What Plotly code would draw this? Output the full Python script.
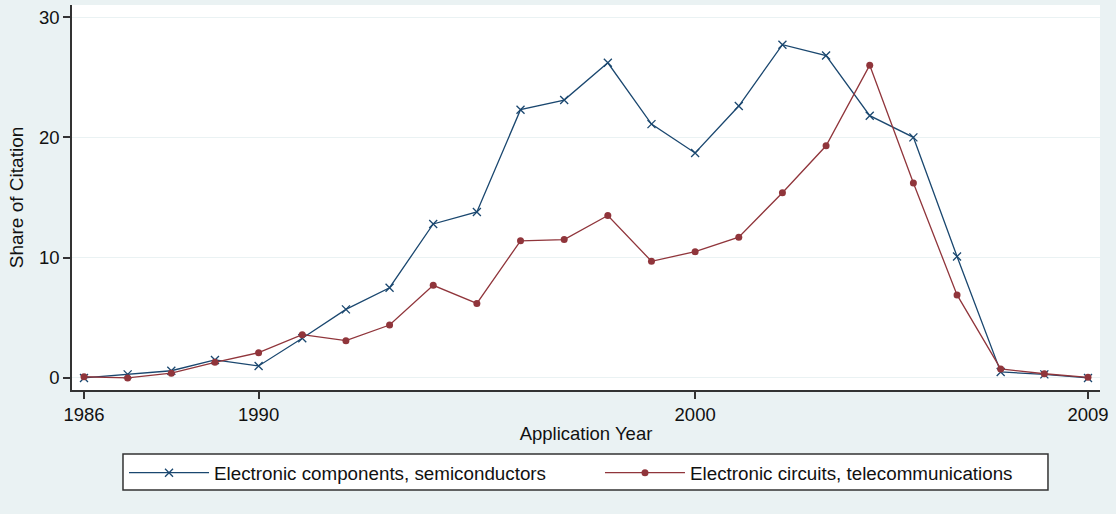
import plotly.graph_objects as go

years = list(range(1986, 2010))
semiconductors = [0.0, 0.3, 0.6, 1.5, 1.0, 3.3, 5.7, 7.5, 12.8, 13.8, 22.3, 23.1, 26.2, 21.1,
                  18.7, 22.6, 27.7, 26.8, 21.8, 20.0, 10.1, 0.5, 0.3, 0.0]
telecom = [0.1, 0.0, 0.4, 1.3, 2.1, 3.6, 3.1, 4.4, 7.7, 6.2, 11.4, 11.5, 13.5, 9.7,
           10.5, 11.7, 15.4, 19.3, 26.0, 16.2, 6.9, 0.75, 0.35, 0.05]
x_ticks = [1986, 1990, 2000, 2009]
y_ticks = [0, 10, 20, 30]
names = ["Electronic components, semiconductors", "Electronic circuits, telecommunications"]

BG = "#EAF2F3"
FONT = "Liberation Sans, Arial, sans-serif"
FS = 18.5
LFS = 18.8

fig = go.Figure()
fig.add_trace(go.Scatter(
    x=years, y=semiconductors, name=names[0], mode="lines+markers",
    line=dict(color="#1A476F", width=1.3),
    marker=dict(symbol="x-thin-open", size=8, color="#1A476F",
                line=dict(color="#1A476F", width=1.3)),
    legend="legend",
))
fig.add_trace(go.Scatter(
    x=years, y=telecom, name=names[1], mode="lines+markers",
    line=dict(color="#90353B", width=1.3),
    marker=dict(symbol="circle", size=7, color="#90353B"),
    legend="legend2",
))

legend_common = dict(
    orientation="h", yanchor="top", y=-0.1662, xanchor="left",
    bgcolor="rgba(0,0,0,0)", borderwidth=0,
    font=dict(family=FONT, size=LFS, color="#111111"),
    itemwidth=80,
)

fig.update_layout(
    width=1116, height=514,
    paper_bgcolor=BG, plot_bgcolor="white",
    margin=dict(l=72, r=16, t=5, b=124, autoexpand=False),
    font=dict(family=FONT, size=FS, color="#111111"),
    showlegend=True,
    legend=dict(x=0.0506, **legend_common),
    legend2=dict(x=0.5136, **legend_common),
    shapes=[dict(
        type="rect", xref="paper", yref="paper",
        x0=0.0496, x1=0.9494, y0=-0.2597, y1=-0.1662,
        fillcolor="white", line=dict(color="#333333", width=1.5), layer="below",
    )],
)
fig.update_xaxes(
    range=[1985.725, 2009.275], tickvals=x_ticks, ticktext=[str(t) for t in x_ticks],
    showgrid=False, zeroline=False, automargin=False,
    showline=True, linecolor="#333333", linewidth=1.5,
    ticks="outside", ticklen=7, tickcolor="#333333", tickwidth=1.5,
    title=dict(text="Application Year", standoff=3, font=dict(size=FS)),
)
fig.update_yaxes(
    range=[-1.0, 31.0], tickvals=y_ticks, automargin=False,
    showgrid=True, gridcolor=BG, gridwidth=1.2, zeroline=False,
    showline=True, linecolor="#333333", linewidth=1.5,
    ticks="outside", ticklen=7, tickcolor="#333333", tickwidth=1.5,
    title=dict(text="Share of Citation", standoff=10, font=dict(size=19)),
)

fig.write_html("out.html", post_script="document.body.style.margin='0';",
               config={"displayModeBar": False})
